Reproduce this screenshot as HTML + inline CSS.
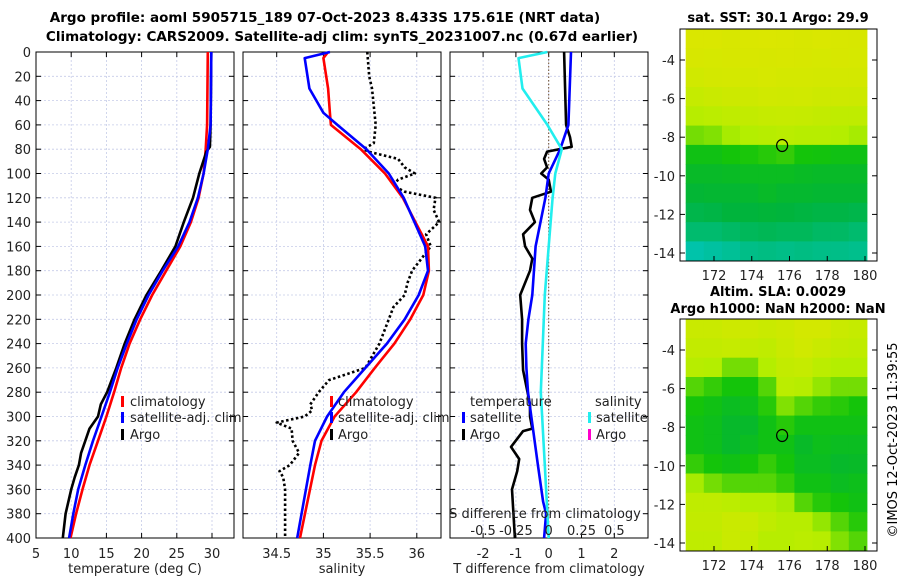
<!DOCTYPE html>
<html><head><meta charset="utf-8">
<style>
body{margin:0;background:#fff;}
svg{display:block;font-family:"DejaVu Sans","Liberation Sans",sans-serif;}
</style></head>
<body>
<svg id="c" width="900" height="580" viewBox="0 0 900 580" xmlns="http://www.w3.org/2000/svg">
<text x="325" y="22" font-size="13.5" font-weight="bold" text-anchor="middle">Argo profile: aoml 5905715_189 07-Oct-2023 8.433S 175.61E (NRT data)</text>
<text x="342" y="41" font-size="13.5" font-weight="bold" text-anchor="middle">Climatology: CARS2009. Satellite-adj clim: synTS_20231007.nc (0.67d earlier)</text>
<text x="778" y="22" font-size="13" font-weight="bold" text-anchor="middle">sat. SST: 30.1 Argo: 29.9</text>
<text x="778" y="296" font-size="13" font-weight="bold" text-anchor="middle">Altim. SLA: 0.0029</text>
<text x="778" y="313" font-size="13" font-weight="bold" text-anchor="middle">Argo h1000: NaN h2000: NaN</text>
<text transform="translate(897,440) rotate(-90)" font-size="13" text-anchor="middle">©IMOS 12-Oct-2023 11:39:55</text>
<g id="g"></g>
</svg>
<script>
// ---- data ----
const tDepth=[0,60,80,100,120,140,160,180,200,220,240,260,280,300,320,340,360,380,400];
const tClim=[29.4,29.3,29.1,28.8,28.1,27.0,25.5,23.5,21.5,19.8,18.3,17.1,16.1,15.0,13.8,12.6,11.6,10.7,9.9];
const tSat=[29.9,29.8,29.4,28.8,28.0,26.8,25.2,23.0,21.0,19.3,17.9,16.6,15.5,14.3,13.1,12.0,11.0,10.3,9.7];
const argoDepth=[0,60,78,82,100,120,140,160,180,200,220,240,260,280,290,300,310,320,330,340,350,360,380,400];
const tArgo=[29.9,29.8,29.7,29.2,28.2,27.3,26.0,24.8,22.8,20.7,19.0,17.6,16.4,15.1,14.2,13.8,12.6,12.0,11.4,11.1,10.5,10.0,9.2,8.8];
const sDepth=[0,5,30,50,60,80,100,120,160,180,200,220,240,260,280,300,320,340,400];
const sClim=[35.05,35.0,35.05,35.07,35.08,35.4,35.66,35.85,36.12,36.13,36.07,35.93,35.76,35.55,35.35,35.12,34.98,34.91,34.75];
const sSat=[35.07,34.8,34.85,35.0,35.15,35.46,35.7,35.86,36.09,36.12,36.02,35.87,35.68,35.45,35.22,35.04,34.91,34.86,34.72];
const saDepth=[0,20,30,60,75,80,82,88,95,100,105,110,115,120,130,140,150,160,170,180,190,200,210,220,240,260,270,280,290,295,300,305,310,320,330,340,345,350,360,400];
const sArgo=[35.47,35.49,35.52,35.56,35.54,35.43,35.48,35.8,35.87,35.98,35.8,35.75,35.87,36.2,36.18,36.24,36.1,36.15,36.05,35.95,35.9,35.87,35.75,35.7,35.6,35.45,35.06,34.95,34.86,34.88,34.8,34.5,34.66,34.67,34.74,34.64,34.53,34.57,34.59,34.59];
const dDepth=[0,60,80,100,120,160,200,220,240,260,280,340,370,380,400];
const dTSat=[0.68,0.6,0.35,0.0,-0.1,-0.4,-0.5,-0.62,-0.7,-0.68,-0.63,-0.33,-0.17,-0.08,-0.14];
const dsDepth=[0,5,30,60,80,100,120,200,280,340,400];
const dSSat=[-0.01,-0.23,-0.2,-0.01,0.1,0.05,0.03,-0.03,-0.06,-0.03,0.0];
const daDepth=[0,60,70,78,82,88,95,100,105,115,120,130,140,150,160,170,180,200,220,240,262,290,300,310,312,325,335,345,360,400];
const dTArgo=[0.47,0.53,0.65,0.7,-0.05,-0.14,-0.05,-0.23,0.0,0.07,-0.5,-0.57,-0.42,-0.78,-0.72,-0.5,-0.57,-0.87,-0.81,-0.81,-0.78,-0.57,-0.57,-0.5,-0.78,-1.15,-0.9,-0.96,-1.12,-1.03];
const depthTicks=[0,20,40,60,80,100,120,140,160,180,200,220,240,260,280,300,320,340,360,380,400];
const tTicks=[5,10,15,20,25,30];
const sTicks=[34.5,35,35.5,36];
const dTTicks=[-2,-1,0,1,2];
const dSTicks=[-0.5,-0.25,0,0.25,0.5];
const lonTicks=[172,174,176,178,180];
const latTicks=[-4,-6,-8,-10,-12,-14];
const sstGrid=[
[.97,.97,.96,.97,.98,.97,.96,.97,.96,.95],
[.95,.94,.95,.96,.95,.96,.95,.94,.95,.94],
[.9,.92,.93,.93,.94,.93,.93,.92,.92,.92],
[.82,.85,.87,.88,.9,.89,.9,.88,.88,.87],
[.72,.75,.78,.8,.82,.83,.82,.8,.78,.78],
[.6,.62,.68,.7,.72,.74,.72,.72,.7,.68],
[.42,.42,.45,.46,.48,.5,.45,.44,.42,.42],
[.36,.36,.37,.38,.38,.38,.37,.36,.36,.36],
[.32,.33,.33,.34,.36,.34,.34,.33,.33,.33],
[.27,.28,.3,.3,.31,.3,.29,.28,.28,.27],
[.2,.2,.22,.24,.25,.24,.24,.22,.22,.2],
[.08,.1,.12,.15,.16,.15,.16,.15,.15,.14]];
const slaGrid=[
[.85,.85,.88,.88,.85,.88,.92,.92,.85,.82],
[.8,.8,.82,.8,.78,.85,.9,.85,.8,.78],
[.72,.7,.6,.6,.7,.8,.82,.75,.7,.7],
[.55,.5,.45,.45,.55,.75,.72,.65,.6,.6],
[.45,.42,.38,.4,.48,.62,.55,.5,.48,.45],
[.42,.4,.35,.35,.42,.48,.42,.42,.42,.42],
[.42,.4,.35,.38,.42,.42,.36,.4,.38,.38],
[.5,.45,.42,.45,.5,.45,.38,.38,.35,.36],
[.68,.6,.55,.55,.55,.5,.42,.42,.38,.4],
[.78,.78,.75,.7,.7,.68,.55,.48,.45,.42],
[.8,.8,.85,.85,.78,.72,.72,.65,.55,.48],
[.78,.78,.85,.82,.72,.72,.75,.72,.62,.55]];
const argoLon=175.61, argoLat=-8.43;

// ---- drawing ----
const NS="http://www.w3.org/2000/svg";
const G=document.getElementById('g');
function el(tag,attrs,parent){const e=document.createElementNS(NS,tag);for(const k in attrs)e.setAttribute(k,attrs[k]);(parent||G).appendChild(e);return e;}
const Y0=52,Y1=538;
const yD=d=>Y0+d*(Y1-Y0)/400;
function scale(a,b,pa,pb){return v=>pa+(v-a)*(pb-pa)/(b-a);}
const xT=scale(5,10,36,71.2);
const xS=scale(34.5,35,276.7,323.4);
const xDT=scale(0,1,548.7,581.5);
const xDS=scale(0,0.25,548.7,581.5);

function panel(x0,x1,name,xticks,xf,labels,ylabels){
  for(const d of depthTicks){const y=yD(d);
    const gl=el('line',{x1:x0,x2:x1,y1:y,y2:y,stroke:'#c5cbe8','stroke-width':0.8,'stroke-dasharray':'2,2'});
    
    el('line',{x1:x0,x2:x0+5,y1:y,y2:y,stroke:'#000'});el('line',{x1:x1-5,x2:x1,y1:y,y2:y,stroke:'#000'});
    if(ylabels){const t=el('text',{x:x0-5,y:y+5,'font-size':13,'text-anchor':'end',fill:'#222'});t.textContent=d;
      }
  }
  for(const v of xticks){const x=xf(v);
    const gl=el('line',{x1:x,x2:x,y1:Y0,y2:Y1,stroke:'#c5cbe8','stroke-width':0.8,'stroke-dasharray':'2,2'});
    
    el('line',{x1:x,x2:x,y1:Y1-5,y2:Y1,stroke:'#000'});el('line',{x1:x,x2:x,y1:Y0,y2:Y0+5,stroke:'#000'});
    if(labels){const t=el('text',{x:x,y:558,'font-size':13,'text-anchor':'middle',fill:'#222'});t.textContent=v;
      }
  }
  const r=el('rect',{x:x0,y:Y0,width:x1-x0,height:Y1-Y0,fill:'none',stroke:'#000','stroke-width':1});
  
}
function line(xs,ds,xf,color,name,w,dash){
  const pts=xs.map((v,i)=>xf(v).toFixed(1)+','+yD(ds[i]).toFixed(1)).join(' ');
  const p=el('polyline',{points:pts,fill:'none',stroke:color,'stroke-width':w||2.6,'stroke-linejoin':'round'});
  if(dash)p.setAttribute('stroke-dasharray',dash);
  
}
function txt(x,y,s,name,opt){const t=el('text',Object.assign({x:x,y:y,'font-size':13,fill:'#222'},opt||{}));t.textContent=s;
  return t;}
function mark(x,y,color,name){const r=el('rect',{x:x,y:y-11,width:3,height:11,fill:color});
  }

// panel 1
panel(36,234,'temperature-axes',tTicks,xT,true,true);
line(tClim,tDepth,xT,'#ff0000','temperature-climatology-line');
line(tArgo,argoDepth,xT,'#000000','temperature-argo-line');
line(tSat,tDepth,xT,'#0000ff','temperature-satellite-line');
txt(135,573,'temperature (deg C)','temperature-x-axis-title',{'text-anchor':'middle'});
mark(121,407,'#ff0000','legend-climatology-marker');txt(130,406,'climatology','legend-climatology');
mark(121,423,'#0000ff','legend-satellite-marker');txt(130,422,'satellite-adj. clim','legend-satellite');
mark(121,440,'#000','legend-argo-marker');txt(130,439,'Argo','legend-argo');

// panel 2
panel(243,441,'salinity-axes',sTicks,xS,true,false);
line(sArgo,saDepth,xS,'#000000','salinity-argo-line',2.6,'2.5,2.5');
line(sClim,sDepth,xS,'#ff0000','salinity-climatology-line');
line(sSat,sDepth,xS,'#0000ff','salinity-satellite-line');
txt(342,573,'salinity','salinity-x-axis-title',{'text-anchor':'middle'});
mark(330,407,'#ff0000','legend-s-climatology-marker');txt(338,406,'climatology','legend-s-climatology');
mark(330,423,'#0000ff','legend-s-satellite-marker');txt(338,422,'satellite-adj. clim','legend-s-satellite');
mark(330,440,'#000','legend-s-argo-marker');txt(338,439,'Argo','legend-s-argo');

// panel 3
panel(450,648,'difference-axes',dTTicks,xDT,true,false);
const zl=el('line',{x1:xDT(0),x2:xDT(0),y1:Y0,y2:Y1,stroke:'#6b4a2a','stroke-width':1,'stroke-dasharray':'1.5,2'});

line(dTArgo,daDepth,xDT,'#000000','t-diff-argo-line');
line(dTSat,dDepth,xDT,'#0000ff','t-diff-satellite-line');
line(dSSat,dsDepth,xDS,'#22eeee','s-diff-satellite-line');
txt(549,573,'T difference from climatology','t-diff-axis-title',{'text-anchor':'middle'});
txt(545,518,'S difference from climatology','s-diff-axis-title',{'text-anchor':'middle'});
for(const v of dSTicks){const t=txt(xDS(v),535,v,'s-diff-tick-label',{'text-anchor':'middle'});}
txt(470,406,'temperature','legend-temperature-heading');
mark(462,423,'#0000ff','legend-t-satellite-marker');txt(470,422,'satellite','legend-t-satellite');
mark(462,440,'#000','legend-t-argo-marker');txt(470,439,'Argo','legend-t-argo');
txt(595,406,'salinity','legend-salinity-heading');
mark(588,423,'#22eeee','legend-s-diff-satellite-marker');txt(596,422,'satellite','legend-s-diff-satellite');
mark(588,440,'#ff00cc','legend-s-diff-argo-marker');txt(596,439,'Argo','legend-s-diff-argo');

// maps
function cmap(v){
  const stops=[[0,[0,200,210]],[0.3,[0,180,60]],[0.45,[20,196,10]],[0.7,[180,238,0]],[1,[222,230,0]]];
  for(let i=1;i<stops.length;i++){if(v<=stops[i][0]){const a=stops[i-1],b=stops[i];const t=(v-a[0])/(b[0]-a[0]);
    return 'rgb('+a[1].map((c,j)=>Math.round(c+(b[1][j]-c)*t)).join(',')+')';}}
  return 'rgb(222,230,0)';
}
function map(top,grid,name){
  const lonX=scale(172,180,714,865), latY=scale(-4,-14,top+31,top+224);
  const lat0=-2.4, lon0=170.5;
  for(let r=0;r<grid.length;r++)for(let c=0;c<grid[r].length;c++){
    const x0=lonX(lon0+c*0.96),x1=lonX(lon0+(c+1)*0.96);
    const y0=Math.max(latY(lat0-r),top),y1=latY(lat0-r-1);
    const cell=el('rect',{x:x0.toFixed(1),y:y0.toFixed(1),width:(x1-x0+0.5).toFixed(1),height:(Math.min(y1,top+232)-y0+0.5).toFixed(1),fill:cmap(grid[r][c])});
    
  }
  const frame=el('rect',{x:680,y:top,width:197,height:232,fill:'none',stroke:'#000'});
  
  for(const v of lonTicks){const x=lonX(v);el('line',{x1:x,x2:x,y1:top+232,y2:top+227,stroke:'#000'});
    txt(x,top+251,v,'lon-tick-label',{'text-anchor':'middle'});}
  for(const v of latTicks){const y=latY(v);el('line',{x1:877,x2:872,y1:y,y2:y,stroke:'#000'});el('line',{x1:680,x2:685,y1:y,y2:y,stroke:'#000'});
    txt(675,y+5,v,'lat-tick-label',{'text-anchor':'end'});}
  const circ=el('ellipse',{cx:lonX(argoLon),cy:latY(argoLat),rx:5.5,ry:6,fill:'none',stroke:'#000','stroke-width':1.2});
  
}
map(29,sstGrid,'sst-map-frame');
map(319,slaGrid,'sla-map-frame');
</script>
</body></html>
